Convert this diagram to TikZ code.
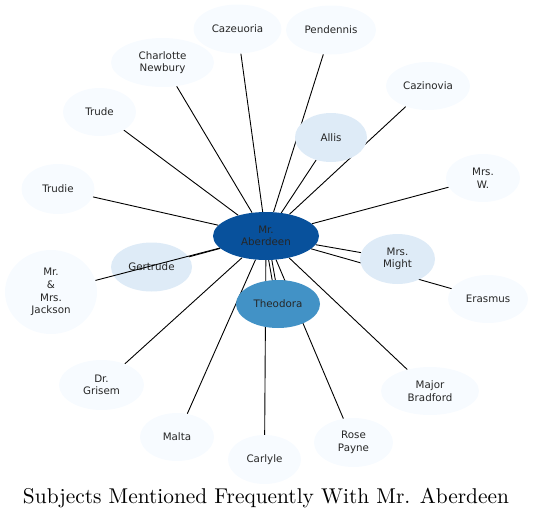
\documentclass[tikz,border=0pt]{standalone}
\usepackage{fontspec}
\newfontfamily\dejavu{DejaVu Sans}
\usetikzlibrary{shapes.geometric}
\pgfdeclarelayer{background}
\pgfsetlayers{background,main}
\definecolor{cA}{HTML}{F7FBFF}
\definecolor{cB}{HTML}{DEEBF7}
\definecolor{cC}{HTML}{4292C6}
\definecolor{cD}{HTML}{08519C}
\begin{document}
\begin{tikzpicture}[x=1pt,y=-1pt,
  nd/.style={ellipse, inner sep=0pt, align=center, draw=none,
    font=\dejavu\fontsize{10.3}{12.6}\selectfont, text=black!85},
  lo/.style={nd, fill=cA},
  mid/.style={nd, fill=cB},
  edge/.style={draw=black, line width=0.9pt}]
\useasboundingbox (0,0) rectangle (533,520);

\node[nd, fill=cD, minimum width=106pt, minimum height=48pt] (ab) at (266,236) {Mr.\\Aberdeen};
\node[nd, fill=cC, minimum width=84pt, minimum height=48pt] (theo) at (278,304) {Theodora};
\node[mid, minimum width=81pt, minimum height=49pt] (gert) at (151.5,267) {Gertrude};
\node[mid, minimum width=72pt, minimum height=49pt] (allis) at (331,137.5) {Allis};
\node[mid, minimum width=75pt, minimum height=50pt] (might) at (397.5,259) {Mrs.\\Might};
\node[lo, minimum width=80pt, minimum height=48pt] (eras) at (488,299) {Erasmus};
\node[lo, minimum width=92pt, minimum height=84pt] (jack) at (51,292) {Mr.\\\&\\Mrs.\\Jackson};
\node[lo, minimum width=73pt, minimum height=48pt] (trude) at (99.5,112) {Trude};
\node[lo, minimum width=73pt, minimum height=50pt] (trudie) at (58,189) {Trudie};
\node[lo, minimum width=103pt, minimum height=49pt] (char) at (162.5,62.5) {Charlotte\\Newbury};
\node[lo, minimum width=88pt, minimum height=49pt] (caze) at (237.5,29) {Cazeuoria};
\node[lo, minimum width=90pt, minimum height=49pt] (pend) at (331,30) {Pendennis};
\node[lo, minimum width=84pt, minimum height=48pt] (cazi) at (428,86) {Cazinovia};
\node[lo, minimum width=74pt, minimum height=48pt] (mrsw) at (483,178) {Mrs.\\W.};
\node[lo, minimum width=98pt, minimum height=48pt] (major) at (430,391) {Major\\Bradford};
\node[lo, minimum width=79pt, minimum height=49pt] (rose) at (353.5,442.5) {Rose\\Payne};
\node[lo, minimum width=73pt, minimum height=49pt] (carl) at (264.5,459.5) {Carlyle};
\node[lo, minimum width=74pt, minimum height=48pt] (malta) at (177,437) {Malta};
\node[lo, minimum width=85pt, minimum height=50pt] (gris) at (101.5,385) {Dr.\\Grisem};

\begin{pgfonlayer}{background}
\draw[edge] (ab) -- (trude);
\draw[edge] (ab) -- (trudie);
\draw[edge] (ab) -- (char);
\draw[edge] (ab) -- (caze);
\draw[edge] (ab) -- (pend);
\draw[edge] (ab) -- (allis);
\draw[edge] (ab) -- (cazi);
\draw[edge] (ab) -- (mrsw);
\draw[edge] (ab) -- (might);
\draw[edge] (ab) -- (eras);
\draw[edge] (ab) -- (major);
\draw[edge] (ab) -- (rose);
\draw[edge] (ab) -- (carl);
\draw[edge] (ab) -- (malta);
\draw[edge] (ab) -- (gris);
\draw[edge] (ab) -- (gert);
\draw[edge] ([xshift=-1.6pt]ab.center) -- ([xshift=-1.6pt]theo.center);
\draw[edge] ([xshift=1.6pt]ab.center) -- ([xshift=1.6pt]theo.center);
\end{pgfonlayer}
\draw[edge] (ab) -- (jack);

\node (title) at (266,498) {\resizebox{486pt}{!}{Subjects Mentioned Frequently With Mr. Aberdeen}};
\end{tikzpicture}
\end{document}
